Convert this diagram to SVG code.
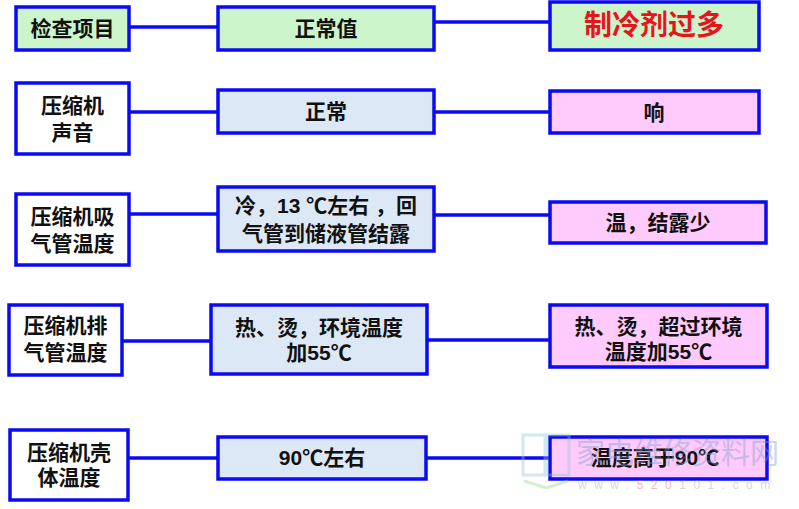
<svg xmlns="http://www.w3.org/2000/svg" width="799" height="509" viewBox="0 0 799 509">
<style>
.box{stroke:#0a0af5;stroke-width:3.5}
.g{fill:#ccf5cc}
.w{fill:#ffffff}
.b{fill:#dce8f5}
.p{fill:#fecbfc}
.t{font-family:"Liberation Sans","Noto Sans CJK SC",sans-serif;font-weight:bold;font-size:21px;fill:#111;text-anchor:middle;dominant-baseline:central}
.c{stroke:#0a0af5;stroke-width:3.5;fill:none}
</style>
<rect width="799" height="509" fill="#ffffff"/>
<g id="connectors">
<line class="c" x1="129" y1="27" x2="218" y2="27"/>
<line class="c" x1="434" y1="22" x2="550" y2="22"/>
<line class="c" x1="129" y1="112" x2="218" y2="112"/>
<line class="c" x1="434" y1="112" x2="550" y2="112"/>
<line class="c" x1="129" y1="214" x2="218" y2="214"/>
<line class="c" x1="434" y1="215" x2="550" y2="215"/>
<line class="c" x1="122" y1="341" x2="211" y2="341"/>
<line class="c" x1="427" y1="340" x2="550" y2="340"/>
<line class="c" x1="128" y1="458" x2="218" y2="458"/>
<line class="c" x1="426" y1="458" x2="550" y2="458"/>
</g>
<g id="n-r1-item"><rect class="box g" x="16" y="7" width="113" height="43"/><text class="t" x="72.5" y="28.5">检查项目</text></g>
<g id="n-r1-normal"><rect class="box g" x="218" y="7" width="216" height="43"/><text class="t" x="326" y="28.5">正常值</text></g>
<g id="n-r1-fault"><rect class="box g" x="550" y="2" width="209" height="48"/><text class="t" x="654" y="25" style="fill:#e8141c;font-size:28px;font-weight:bold">制冷剂过多</text></g>

<g id="n-r2-item"><rect class="box w" x="16" y="83" width="113" height="71"/><text class="t" x="72.5" y="105">压缩机</text><text class="t" x="72.5" y="132">声音</text></g>
<g id="n-r2-normal"><rect class="box b" x="218" y="90" width="216" height="43"/><text class="t" x="326" y="111.5">正常</text></g>
<g id="n-r2-fault"><rect class="box p" x="550" y="91" width="209" height="42"/><text class="t" x="654" y="112">响</text></g>

<g id="n-r3-item"><rect class="box w" x="16" y="194" width="113" height="71"/><text class="t" x="72.5" y="216">压缩机吸</text><text class="t" x="72.5" y="243">气管温度</text></g>
<g id="n-r3-normal"><rect class="box b" x="218" y="187" width="216" height="64"/><text class="t" x="326" y="205">冷，13 ℃左右 ，回</text><text class="t" x="326" y="233">气管到储液管结露</text></g>
<g id="n-r3-fault"><rect class="box p" x="550" y="202" width="216" height="41"/><text class="t" x="658" y="222.5">温，结露少</text></g>

<g id="n-r4-item"><rect class="box w" x="9" y="305" width="113" height="70"/><text class="t" x="65.5" y="325">压缩机排</text><text class="t" x="65.5" y="352">气管温度</text></g>
<g id="n-r4-normal"><rect class="box b" x="211" y="305" width="216" height="69"/><text class="t" x="319" y="327">热、烫，环境温度</text><text class="t" x="319" y="352">加55℃</text></g>
<g id="n-r4-fault"><rect class="box p" x="550" y="305" width="217" height="62"/><text class="t" x="658.5" y="326">热、烫，超过环境</text><text class="t" x="658.5" y="351">温度加55℃</text></g>

<g id="n-r5-item"><rect class="box w" x="10" y="430" width="118" height="70"/><text class="t" x="69" y="452">压缩机壳</text><text class="t" x="69" y="477">体温度</text></g>
<g id="n-r5-normal"><rect class="box b" x="218" y="437" width="208" height="42"/><text class="t" x="322" y="457.5">90℃左右</text></g>
<g id="n-r5-fault"><rect class="box p" x="550" y="437" width="217" height="42"/><text class="t" x="655" y="457.5">温度高于90℃</text></g>

<g id="watermark" opacity="0.4">
<rect x="523" y="435" width="22" height="40" fill="none" stroke="#8cc8d8" stroke-width="3"/>
<rect x="547" y="435" width="22" height="40" fill="none" stroke="#8cc8d8" stroke-width="3"/>
<polyline points="524,481 546,488 568,481" fill="none" stroke="#9ad48a" stroke-width="3"/>
<text x="576" y="464" style="font-family:'Noto Sans CJK SC',sans-serif;font-size:29px;fill:#7a9ad0">家电维修资料网</text>
<text x="578" y="489" style="font-family:'Liberation Sans',sans-serif;font-size:12px;fill:#999;letter-spacing:7.5px">www.<tspan fill="#e05050">520</tspan>101.com</text>
</g>
</svg>
